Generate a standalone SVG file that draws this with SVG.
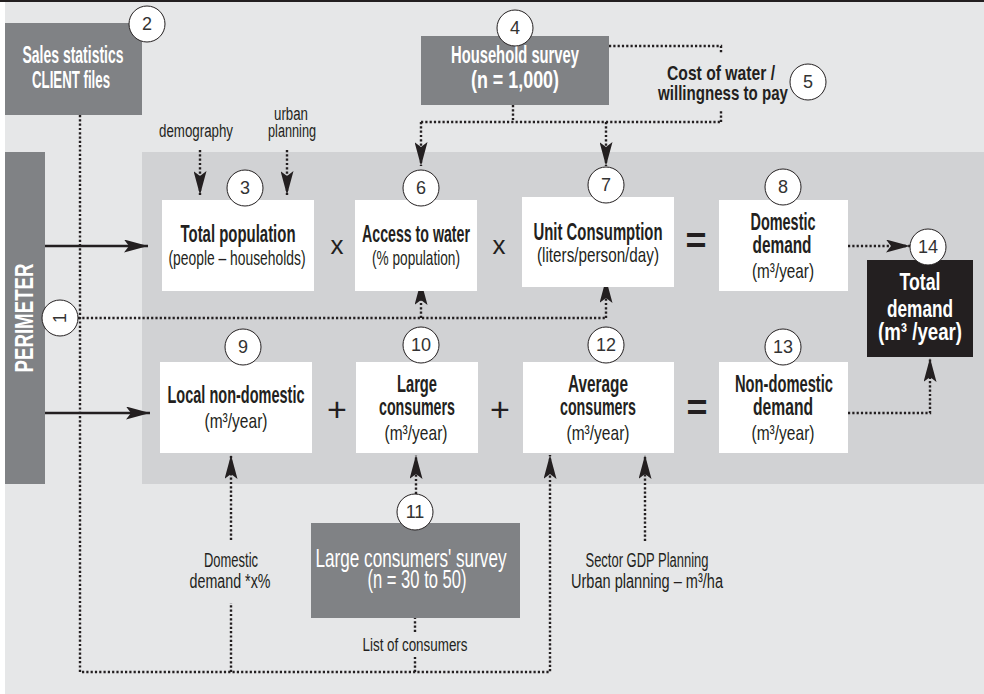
<svg xmlns="http://www.w3.org/2000/svg" width="984" height="694" viewBox="0 0 984 694">
<style>
.t{font-family:'Liberation Sans Narrow','Liberation Sans',Arial,sans-serif;fill:#231f20;text-anchor:middle}
.b{font-weight:bold}
.w{fill:#fff}
.n{font-size:18px;fill:#333}
.box{fill:#fff}
.dark{fill:#808285}
.circ{fill:#fff;stroke:#231f20;stroke-width:1}
.dot{fill:none;stroke:#231f20;stroke-width:2.4;stroke-dasharray:2.2 2.1}
.solid{fill:none;stroke:#231f20;stroke-width:2.5}
</style>
<defs>
<marker id="ah" viewBox="0 0 24 13" refX="24" refY="6.5" markerWidth="24" markerHeight="13" markerUnits="userSpaceOnUse" orient="auto">
<path d="M0,0 L24,6.5 L0,13 L5,6.5 Z" fill="#231f20"/>
</marker>
</defs>
<rect x="0" y="0" width="984" height="694" fill="#fff"/>
<rect x="5" y="2" width="979" height="692" fill="#e6e7e8"/>
<rect x="0" y="0" width="984" height="2" fill="#231f20"/>
<rect x="142" y="152" width="842" height="332" fill="#d1d2d4"/>

<g id="perimeter">
<rect x="5" y="152" width="40" height="332" class="dark"/>
<text class="t b w" font-size="25" transform="translate(33,318) rotate(-90)" textLength="109" lengthAdjust="spacingAndGlyphs">PERIMETER</text>
</g>

<g id="connectors">
<line x1="45" y1="246" x2="148" y2="246" class="solid" marker-end="url(#ah)"/>
<line x1="45" y1="413" x2="150" y2="413" class="solid" marker-end="url(#ah)"/>
<polyline points="80,115 80,672 550,672 550,455" class="dot" marker-end="url(#ah)"/>
<line x1="231" y1="672" x2="231" y2="603" class="dot"/>
<line x1="231" y1="540" x2="231" y2="455" class="dot" marker-end="url(#ah)"/>
<line x1="415" y1="672" x2="415" y2="657" class="dot"/>
<line x1="415" y1="632" x2="415" y2="618" class="dot"/>
<line x1="416" y1="494" x2="416" y2="455" class="dot" marker-end="url(#ah)"/>
<line x1="645" y1="541" x2="645" y2="455" class="dot" marker-end="url(#ah)"/>
<line x1="200" y1="150" x2="200" y2="195" class="dot" marker-end="url(#ah)"/>
<line x1="287" y1="150" x2="287" y2="195" class="dot" marker-end="url(#ah)"/>
<line x1="513" y1="105" x2="513" y2="122" class="dot"/>
<line x1="421" y1="122" x2="721" y2="122" class="dot"/>
<line x1="721" y1="122" x2="721" y2="111" class="dot"/>
<polyline points="609,46 721,46 721,54" class="dot"/>
<polyline points="421,122 421,166" class="dot" marker-end="url(#ah)"/>
<polyline points="606,122 606,166" class="dot" marker-end="url(#ah)"/>
<line x1="78" y1="318" x2="606" y2="318" class="dot"/>
<line x1="421" y1="318" x2="421" y2="281" class="dot" marker-end="url(#ah)"/>
<line x1="606" y1="318" x2="606" y2="279" class="dot" marker-end="url(#ah)"/>
<line x1="848" y1="246" x2="910" y2="246" class="dot" marker-end="url(#ah)"/>
<polyline points="848,413 930,413 930,358" class="dot" marker-end="url(#ah)"/>
</g>

<g id="n2">
<rect x="5" y="23" width="137" height="92" class="dark"/>
<text class="t b w" font-size="24" x="73" y="63" textLength="101" lengthAdjust="spacingAndGlyphs">Sales statistics</text>
<text class="t b w" font-size="24" x="71" y="88" textLength="78" lengthAdjust="spacingAndGlyphs">CLIENT files</text>
<circle cx="147" cy="24" r="18" class="circ"/><text class="t n" x="147" y="30">2</text>
</g>

<g id="labels-top">
<text class="t" font-size="18" x="196" y="137" textLength="74" lengthAdjust="spacingAndGlyphs">demography</text>
<text class="t" font-size="18" x="291" y="120" textLength="34" lengthAdjust="spacingAndGlyphs">urban</text>
<text class="t" font-size="18" x="292" y="137" textLength="48" lengthAdjust="spacingAndGlyphs">planning</text>
</g>

<g id="n4">
<rect x="421" y="36" width="188" height="69" class="dark"/>
<text class="t b w" font-size="24" x="515" y="63" textLength="128" lengthAdjust="spacingAndGlyphs">Household survey</text>
<text class="t b w" font-size="24" x="515" y="88" textLength="88" lengthAdjust="spacingAndGlyphs">(n = 1,000)</text>
<circle cx="515" cy="28" r="18" class="circ"/><text class="t n" x="515" y="34">4</text>
</g>

<g id="n5">
<text class="t b" font-size="21" x="721" y="80" textLength="108" lengthAdjust="spacingAndGlyphs">Cost of water /</text>
<text class="t b" font-size="21" x="723" y="100" textLength="130" lengthAdjust="spacingAndGlyphs">willingness to pay</text>
<circle cx="808" cy="82" r="18" class="circ"/><text class="t n" x="808" y="88">5</text>
</g>

<g id="n3">
<rect x="162" y="200" width="152" height="91" class="box"/>
<text class="t b" font-size="24" x="238" y="242" textLength="115" lengthAdjust="spacingAndGlyphs">Total population</text>
<text class="t" font-size="21" x="237" y="265" textLength="137" lengthAdjust="spacingAndGlyphs">(people – households)</text>
<circle cx="245" cy="188" r="18" class="circ"/><text class="t n" x="245" y="194">3</text>
</g>

<g id="n6">
<rect x="355" y="200" width="122" height="91" class="box"/>
<text class="t b" font-size="24" x="416" y="242" textLength="108" lengthAdjust="spacingAndGlyphs">Access to water</text>
<text class="t" font-size="21" x="416" y="265" textLength="88" lengthAdjust="spacingAndGlyphs">(% population)</text>
<circle cx="421" cy="188" r="18" class="circ"/><text class="t n" x="421" y="194">6</text>
</g>

<g id="n7">
<rect x="522" y="197" width="152" height="90" class="box"/>
<text class="t b" font-size="24" x="598" y="240" textLength="129" lengthAdjust="spacingAndGlyphs">Unit Consumption</text>
<text class="t" font-size="21" x="598" y="262" textLength="122" lengthAdjust="spacingAndGlyphs">(liters/person/day)</text>
<circle cx="606" cy="185" r="18" class="circ"/><text class="t n" x="606" y="191">7</text>
</g>

<g id="n8">
<rect x="719" y="200" width="129" height="91" class="box"/>
<text class="t b" font-size="24" x="783" y="230" textLength="65" lengthAdjust="spacingAndGlyphs">Domestic</text>
<text class="t b" font-size="24" x="782" y="253" textLength="59" lengthAdjust="spacingAndGlyphs">demand</text>
<text class="t" font-size="21" x="783" y="278" textLength="62" lengthAdjust="spacingAndGlyphs">(m³/year)</text>
<circle cx="783" cy="187" r="18" class="circ"/><text class="t n" x="783" y="193">8</text>
</g>

<g id="ops">
<text class="t" font-size="26" x="337" y="254">x</text>
<text class="t" font-size="26" x="499" y="254">x</text>
<text class="t b" font-size="36" x="696" y="253">=</text>
<text class="t" font-size="34" x="337" y="421">+</text>
<text class="t" font-size="34" x="500" y="421">+</text>
<text class="t b" font-size="36" x="697" y="420">=</text>
</g>

<g id="n14">
<rect x="867" y="260" width="106" height="97" fill="#231f20"/>
<text class="t b w" font-size="24" x="920" y="290" textLength="41" lengthAdjust="spacingAndGlyphs">Total</text>
<text class="t b w" font-size="24" x="920" y="317" textLength="66" lengthAdjust="spacingAndGlyphs">demand</text>
<text class="t b w" font-size="24" x="920" y="340" textLength="84" lengthAdjust="spacingAndGlyphs">(m³ /year)</text>
<circle cx="928" cy="247" r="18" class="circ"/><text class="t n" x="928" y="253">14</text>
</g>

<g id="n9">
<rect x="160" y="362" width="152" height="91" class="box"/>
<text class="t b" font-size="24" x="236" y="403" textLength="137" lengthAdjust="spacingAndGlyphs">Local non-domestic</text>
<text class="t" font-size="21" x="236" y="428" textLength="63" lengthAdjust="spacingAndGlyphs">(m³/year)</text>
<circle cx="243" cy="347" r="18" class="circ"/><text class="t n" x="243" y="353">9</text>
</g>

<g id="n10">
<rect x="356" y="362" width="122" height="91" class="box"/>
<text class="t b" font-size="24" x="417" y="392" textLength="40" lengthAdjust="spacingAndGlyphs">Large</text>
<text class="t b" font-size="24" x="417" y="415" textLength="76" lengthAdjust="spacingAndGlyphs">consumers</text>
<text class="t" font-size="21" x="416" y="440" textLength="63" lengthAdjust="spacingAndGlyphs">(m³/year)</text>
<circle cx="421" cy="345" r="18" class="circ"/><text class="t n" x="421" y="351">10</text>
</g>

<g id="n12">
<rect x="523" y="362" width="151" height="91" class="box"/>
<text class="t b" font-size="24" x="598" y="392" textLength="60" lengthAdjust="spacingAndGlyphs">Average</text>
<text class="t b" font-size="24" x="598" y="415" textLength="76" lengthAdjust="spacingAndGlyphs">consumers</text>
<text class="t" font-size="21" x="598" y="440" textLength="63" lengthAdjust="spacingAndGlyphs">(m³/year)</text>
<circle cx="606" cy="345" r="18" class="circ"/><text class="t n" x="606" y="351">12</text>
</g>

<g id="n13">
<rect x="719" y="362" width="129" height="91" class="box"/>
<text class="t b" font-size="24" x="784" y="392" textLength="98" lengthAdjust="spacingAndGlyphs">Non-domestic</text>
<text class="t b" font-size="24" x="783" y="415" textLength="60" lengthAdjust="spacingAndGlyphs">demand</text>
<text class="t" font-size="21" x="783" y="440" textLength="63" lengthAdjust="spacingAndGlyphs">(m³/year)</text>
<circle cx="783" cy="347" r="18" class="circ"/><text class="t n" x="783" y="353">13</text>
</g>

<g id="n11">
<rect x="311" y="523" width="209" height="95" class="dark"/>
<text class="t w" font-size="26" x="411" y="567" textLength="191" lengthAdjust="spacingAndGlyphs">Large consumers' survey</text>
<text class="t w" font-size="26" x="417" y="588" textLength="99" lengthAdjust="spacingAndGlyphs">(n = 30 to 50)</text>
<circle cx="415" cy="512" r="18" class="circ"/><text class="t n" x="415" y="518">11</text>
</g>

<g id="labels-bottom">
<text class="t" font-size="20" x="231" y="567" textLength="54" lengthAdjust="spacingAndGlyphs">Domestic</text>
<text class="t" font-size="20" x="230" y="588" textLength="81" lengthAdjust="spacingAndGlyphs">demand *x%</text>
<text class="t" font-size="18" x="415" y="651" textLength="105" lengthAdjust="spacingAndGlyphs">List of consumers</text>
<text class="t" font-size="20" x="647" y="567" textLength="123" lengthAdjust="spacingAndGlyphs">Sector GDP Planning</text>
<text class="t" font-size="20" x="647" y="588" textLength="152" lengthAdjust="spacingAndGlyphs">Urban planning – m³/ha</text>
</g>

<g id="n1">
<circle cx="60" cy="318" r="18" class="circ"/><text class="t n" transform="translate(66,318) rotate(-90)">1</text>
</g>
</svg>
